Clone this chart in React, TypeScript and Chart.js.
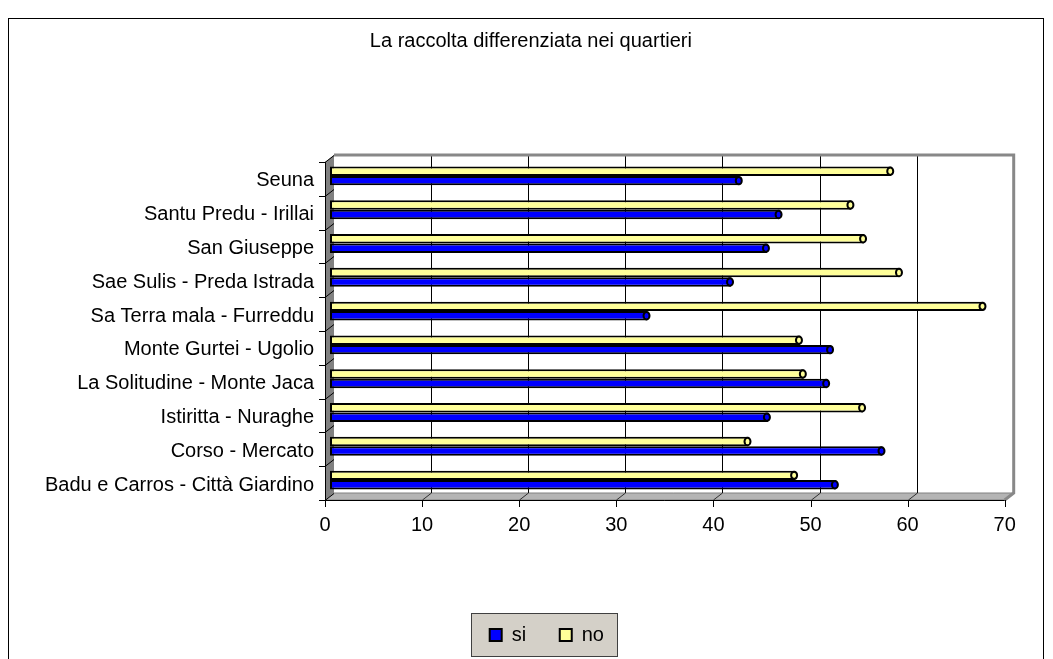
import React, { useEffect, useRef } from 'react';
import { Chart, registerables } from 'chart.js';

Chart.register(...registerables);

const titleText = 'La raccolta differenziata nei quartieri';

// categories listed top to bottom as displayed
const categories = [
  'Seuna',
  'Santu Predu - Irillai',
  'San Giuseppe',
  'Sae Sulis - Preda Istrada',
  'Sa Terra mala - Furreddu',
  'Monte Gurtei - Ugolio',
  'La Solitudine - Monte Jaca',
  'Istiritta - Nuraghe',
  'Corso - Mercato',
  'Badu e Carros - Città Giardino',
];

const siValues = [42.2, 46.3, 45.0, 41.3, 32.7, 51.6, 51.2, 45.1, 56.9, 52.1];
const noValues = [57.8, 53.7, 55.0, 58.7, 67.3, 48.4, 48.8, 54.9, 43.1, 47.9];

const seriesNames = ['si', 'no'];
const xMin = 0;
const xMax = 70;
const xStep = 10;

const FONT = '"Liberation Sans", Arial, sans-serif';

export default function App() {
  const ref = useRef<HTMLCanvasElement>(null);

  useEffect(() => {
    if (!ref.current) return;
    const BDX = 4, BDY = -4; // back plane offset
    const FDX = -5, FDY = 3; // front plane offset

    const frame3d = {
      id: 'frame3d',
      afterLayout(chart: any) {
        if (chart.titleBlock) {
          chart.titleBlock.left += 16;
          chart.titleBlock.right += 16;
        }
        if (chart.legend) {
          chart.legend.left += 32;
          chart.legend.right += 32;
        }
      },
      beforeDraw(chart: any) {
        const ctx = chart.ctx;
        ctx.save();
        ctx.fillStyle = '#ffffff';
        ctx.fillRect(0, 0, chart.width, chart.height);
        ctx.strokeStyle = '#000000';
        ctx.lineWidth = 1;
        ctx.strokeRect(8.5, 18.5, 1035, 700);
        const lg = chart.legend;
        if (lg && lg.legendHitBoxes && lg.legendHitBoxes.length) {
          const hb = lg.legendHitBoxes;
          const first = hb[0];
          const last = hb[hb.length - 1];
          const cy = first.top + first.height / 2;
          const l = Math.round(first.left - 19);
          const r = Math.round(last.left + last.width + 14);
          const t = Math.round(cy - 22);
          ctx.fillStyle = '#d4d0c8';
          ctx.fillRect(l, t, r - l, 44);
          ctx.strokeStyle = '#404040';
          ctx.strokeRect(l + 0.5, t + 0.5, r - l - 1, 43);
        }
        ctx.restore();
      },
      beforeDatasetsDraw(chart: any) {
        const { ctx, chartArea: ca, scales } = chart;
        const xs = scales.x;
        const n = categories.length;
        const band = (ca.bottom - ca.top) / n;
        const bl = ca.left + BDX, bt = ca.top + BDY, br = ca.right + BDX, bb = ca.bottom + BDY;
        const fl = ca.left + FDX, ft = ca.top + FDY, fr = ca.right + FDX, fb = ca.bottom + FDY;
        ctx.save();
        // left wall
        ctx.fillStyle = '#808080';
        ctx.beginPath();
        ctx.moveTo(fl, ft); ctx.lineTo(bl, bt); ctx.lineTo(bl, bb); ctx.lineTo(fl, fb);
        ctx.closePath(); ctx.fill();
        // floor
        ctx.fillStyle = '#b4b4b4';
        ctx.beginPath();
        ctx.moveTo(fl, fb); ctx.lineTo(bl, bb); ctx.lineTo(br, bb); ctx.lineTo(fr, fb);
        ctx.closePath(); ctx.fill();
        ctx.strokeStyle = '#808080'; ctx.lineWidth = 1; ctx.stroke();
        // back gridlines
        ctx.lineWidth = 1;
        xs.ticks.forEach((t: any) => {
          if (t.value <= xMin || t.value >= xMax) return;
          const px = Math.round(xs.getPixelForValue(t.value) + BDX) + 0.5;
          ctx.strokeStyle = '#000000';
          ctx.beginPath(); ctx.moveTo(px, bt); ctx.lineTo(px, bb); ctx.stroke();
          ctx.strokeStyle = '#303030';
          ctx.beginPath(); ctx.moveTo(px + FDX - BDX, fb); ctx.lineTo(px, bb); ctx.stroke();
        });
        // back wall top & right edge
        ctx.strokeStyle = '#888888';
        ctx.lineWidth = 3;
        ctx.beginPath();
        ctx.moveTo(bl, bt); ctx.lineTo(br, bt); ctx.lineTo(br, bb); ctx.lineTo(fr, fb);
        ctx.stroke();
        // front axes
        ctx.strokeStyle = '#000000';
        ctx.lineWidth = 1;
        ctx.beginPath();
        ctx.moveTo(Math.round(fl) + 0.5, ft); ctx.lineTo(Math.round(fl) + 0.5, fb);
        ctx.moveTo(fl, Math.round(fb) + 0.5); ctx.lineTo(fr, Math.round(fb) + 0.5);
        ctx.stroke();
        xs.ticks.forEach((t: any) => {
          const px = Math.round(xs.getPixelForValue(t.value) + FDX) + 0.5;
          ctx.beginPath(); ctx.moveTo(px, fb); ctx.lineTo(px, fb + 7); ctx.stroke();
        });
        for (let k = 0; k <= n; k++) {
          const py = Math.round(ft + k * band) + 0.5;
          ctx.beginPath();
          ctx.moveTo(fl - 6, py); ctx.lineTo(fl, py); ctx.lineTo(bl, py + BDY - FDY);
          ctx.stroke();
        }
        ctx.restore();
      },
      afterDatasetsDraw(chart: any) {
        const ctx = chart.ctx;
        ctx.save();
        chart.data.datasets.forEach((ds: any, i: number) => {
          const meta = chart.getDatasetMeta(i);
          meta.data.forEach((el: any) => {
            const p = el.getProps(['x', 'y', 'height'], true);
            ctx.beginPath();
            ctx.ellipse(p.x - 1, p.y, 3, Math.max(p.height / 2 - 1, 1), 0, 0, Math.PI * 2);
            ctx.fillStyle = ds.backgroundColor;
            ctx.fill();
            ctx.strokeStyle = '#000000';
            ctx.lineWidth = 2;
            ctx.stroke();
          });
        });
        ctx.restore();
      },
    };

    const chart = new Chart(ref.current, {
      type: 'bar',
      data: {
        labels: categories,
        datasets: [
          {
            label: seriesNames[1],
            data: noValues,
            backgroundColor: '#FFFF99',
            borderColor: '#000000',
            borderWidth: 2,
            borderSkipped: false,
            categoryPercentage: 0.56,
            barPercentage: 1.0,
          },
          {
            label: seriesNames[0],
            data: siValues,
            backgroundColor: '#0000FF',
            borderColor: '#000000',
            borderWidth: 2,
            borderSkipped: false,
            categoryPercentage: 0.56,
            barPercentage: 1.0,
          },
        ],
      },
      options: {
        indexAxis: 'y',
        animation: false,
        responsive: true,
        maintainAspectRatio: false,
        devicePixelRatio: 1,
        layout: { padding: { left: 20, right: 43.3, top: 0, bottom: 4 } },
        scales: {
          x: {
            min: xMin,
            max: xMax,
            grid: { display: false, drawTicks: false },
            border: { display: false },
            ticks: {
              stepSize: xStep,
              padding: 16,
              labelOffset: -5,
              color: '#000000',
              font: { family: FONT, size: 20 },
            },
            afterFit: (s: any) => { s.height = 94.4; },
          },
          y: {
            grid: { display: false, drawTicks: false },
            border: { display: false },
            ticks: {
              padding: 16,
              labelOffset: 5,
              autoSkip: false,
              color: '#000000',
              font: { family: FONT, size: 20 },
            },
            afterFit: (s: any) => { s.width = 310; },
          },
        },
        plugins: {
          title: {
            display: true,
            text: titleText,
            color: '#000000',
            font: { family: FONT, size: 20, weight: 'normal' },
            padding: { top: 29, bottom: 106 },
          },
          legend: {
            display: true,
            position: 'bottom',
            reverse: true,
            labels: {
              boxWidth: 12,
              boxHeight: 12,
              padding: 33.6,
              color: '#000000',
              font: { family: FONT, size: 20 },
            },
          },
          tooltip: { enabled: false },
        },
      },
      plugins: [frame3d],
    } as any);

    return () => chart.destroy();
  }, []);

  return (
    <div style={{ position: 'absolute', left: 0, top: 0, width: 1053, height: 659 }}>
      <canvas ref={ref} />
    </div>
  );
}
